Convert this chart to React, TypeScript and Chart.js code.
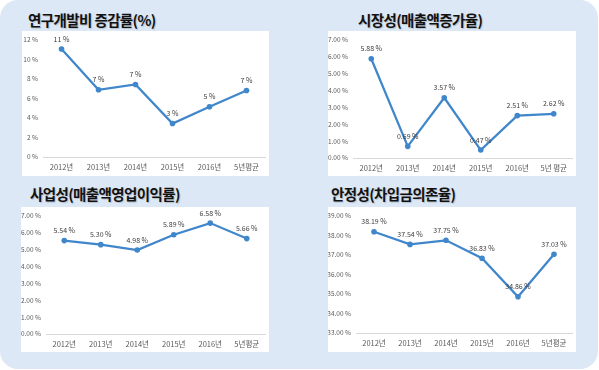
import { useEffect, useRef } from "react";
import { Chart, registerables } from "chart.js";
Chart.register(...registerables);

const categoriesA = ["2012년", "2013년", "2014년", "2015년", "2016년", "5년평균"];
const categoriesB = ["2012년", "2013년", "2014년", "2015년", "2016년", "5년 평균"];
const rdGrowth = [11.06, 6.89, 7.43, 3.43, 5.15, 6.81];
const salesGrowth = [5.88, 0.69, 3.57, 0.47, 2.51, 2.62];
const opMargin = [5.54, 5.3, 4.98, 5.89, 6.58, 5.66];
const debtRatio = [38.19, 37.54, 37.75, 36.83, 34.86, 37.03];

const titles = [
  "연구개발비 증감률(%)",
  "시장성(매출액증가율)",
  "사업성(매출액영업이익률)",
  "안정성(차입금의존율)",
];

const FONT = '"Liberation Sans Narrow", "Noto Sans CJK KR", sans-serif';
const LINE = "#3f86cb";

type Panel = {
  title: string;
  titleX: number;
  titleY: number;
  labels: string[];
  values: number[];
  min: number;
  max: number;
  step: number;
  decimals: number;
  canvas: { x: number; y: number; w: number; h: number };
  plot: { l: number; t: number; r: number; b: number };
};

const panels: Panel[] = [
  {
    title: titles[0], titleX: 28, titleY: 11,
    labels: categoriesA, values: rdGrowth, min: 0, max: 12, step: 2, decimals: 0,
    canvas: { x: 22, y: 31, w: 247, h: 145 },
    plot: { l: 43, t: 39, r: 268, b: 157 },
  },
  {
    title: titles[1], titleX: 358, titleY: 11,
    labels: categoriesB, values: salesGrowth, min: 0, max: 7, step: 1, decimals: 2,
    canvas: { x: 328, y: 31, w: 248, h: 145 },
    plot: { l: 353, t: 39, r: 575, b: 158 },
  },
  {
    title: titles[2], titleX: 30, titleY: 185,
    labels: categoriesA, values: opMargin, min: 0, max: 7, step: 1, decimals: 2,
    canvas: { x: 21, y: 207, w: 248, h: 145 },
    plot: { l: 46, t: 216, r: 268, b: 334 },
  },
  {
    title: titles[3], titleX: 331, titleY: 185,
    labels: categoriesA, values: debtRatio, min: 33, max: 39, step: 1, decimals: 2,
    canvas: { x: 328, y: 207, w: 248, h: 145 },
    plot: { l: 356, t: 214, r: 576, b: 333 },
  },
];

const valueLabels = {
  id: "valueLabels",
  afterDatasetsDraw(chart: any, _args: any, opts: any) {
    const ctx = chart.ctx;
    const meta = chart.getDatasetMeta(0);
    const data = chart.data.datasets[0].data as number[];
    ctx.save();
    ctx.font = `7px ${FONT}`;
    ctx.fillStyle = "#404040";
    ctx.textAlign = "center";
    ctx.textBaseline = "middle";
    meta.data.forEach((pt: any, i: number) => {
      const v = data[i];
      const s = (opts.decimals === 0 ? Math.round(v).toString() : v.toFixed(opts.decimals)) + " %";
      ctx.fillText(s, pt.x, pt.y - 10);
    });
    ctx.restore();
  },
};

const whiteBg = {
  id: "whiteBg",
  beforeDraw(chart: any) {
    const ctx = chart.ctx;
    ctx.save();
    ctx.fillStyle = "#ffffff";
    ctx.fillRect(0, 0, chart.width, chart.height);
    ctx.restore();
  },
};

function LineChart({ p }: { p: Panel }) {
  const ref = useRef<HTMLCanvasElement>(null);
  useEffect(() => {
    if (!ref.current) return;
    const c = p.canvas;
    const padTop = p.plot.t - c.y;
    const padRight = c.x + c.w - p.plot.r;
    const yWidth = p.plot.l - c.x;
    const xHeight = c.y + c.h - p.plot.b;
    const chart = new Chart(ref.current, {
      type: "line",
      data: {
        labels: p.labels,
        datasets: [
          {
            data: p.values,
            borderColor: LINE,
            backgroundColor: LINE,
            borderWidth: 2.25,
            pointRadius: 2.8,
            pointBackgroundColor: LINE,
            pointBorderWidth: 0,
            tension: 0,
          },
        ],
      },
      options: {
        animation: false,
        responsive: false,
        devicePixelRatio: 1,
        layout: { padding: { top: padTop, right: padRight, left: 0, bottom: 0 } },
        plugins: {
          legend: { display: false },
          tooltip: { enabled: false },
          valueLabels: { decimals: p.decimals },
        } as any,
        scales: {
          x: {
            offset: true,
            grid: { display: false, drawTicks: false },
            border: { display: true, color: "#d9d9d9", width: 1 },
            ticks: { color: "#595959", font: { size: 7.5, family: FONT }, padding: 6, maxRotation: 0, autoSkip: false },
            afterFit: (s: any) => { s.height = xHeight; },
          },
          y: {
            min: p.min,
            max: p.max,
            grid: { display: false, drawTicks: false },
            border: { display: false },
            ticks: {
              stepSize: p.step,
              color: "#595959",
              font: { size: 6.5, family: FONT },
              padding: 5,
              callback: (v: any) => Number(v).toFixed(p.decimals) + " %",
            },
            afterFit: (s: any) => { s.width = yWidth; },
          },
        },
      } as any,
      plugins: [whiteBg, valueLabels],
    });
    return () => chart.destroy();
  }, [p]);
  return (
    <canvas
      ref={ref}
      width={p.canvas.w}
      height={p.canvas.h}
      style={{ position: "absolute", left: p.canvas.x, top: p.canvas.y, width: p.canvas.w, height: p.canvas.h }}
    />
  );
}

export default function App() {
  useEffect(() => {
    document.body.style.margin = "0";
  }, []);
  return (
    <div style={{ position: "fixed", left: 0, top: 0, width: 599, height: 370, background: "#ffffff", overflow: "hidden" }}>
      <div
        style={{
          position: "absolute", left: 0, top: 0, width: 598, height: 369,
          background: "#dce8f5", borderRadius: 18,
        }}
      />
      {panels.map((p, i) => (
        <div
          key={"t" + i}
          style={{
            position: "absolute", left: p.titleX, top: p.titleY, whiteSpace: "nowrap",
            fontFamily: '"Noto Sans CJK KR", sans-serif', fontWeight: 700, fontSize: 14.5,
            letterSpacing: -0.6, lineHeight: "18px", color: "#111111",
            textShadow: "1px 1px 1px rgba(0,0,0,0.18)",
          }}
        >
          {p.title}
        </div>
      ))}
      {panels.map((p, i) => (
        <LineChart key={i} p={p} />
      ))}
    </div>
  );
}
